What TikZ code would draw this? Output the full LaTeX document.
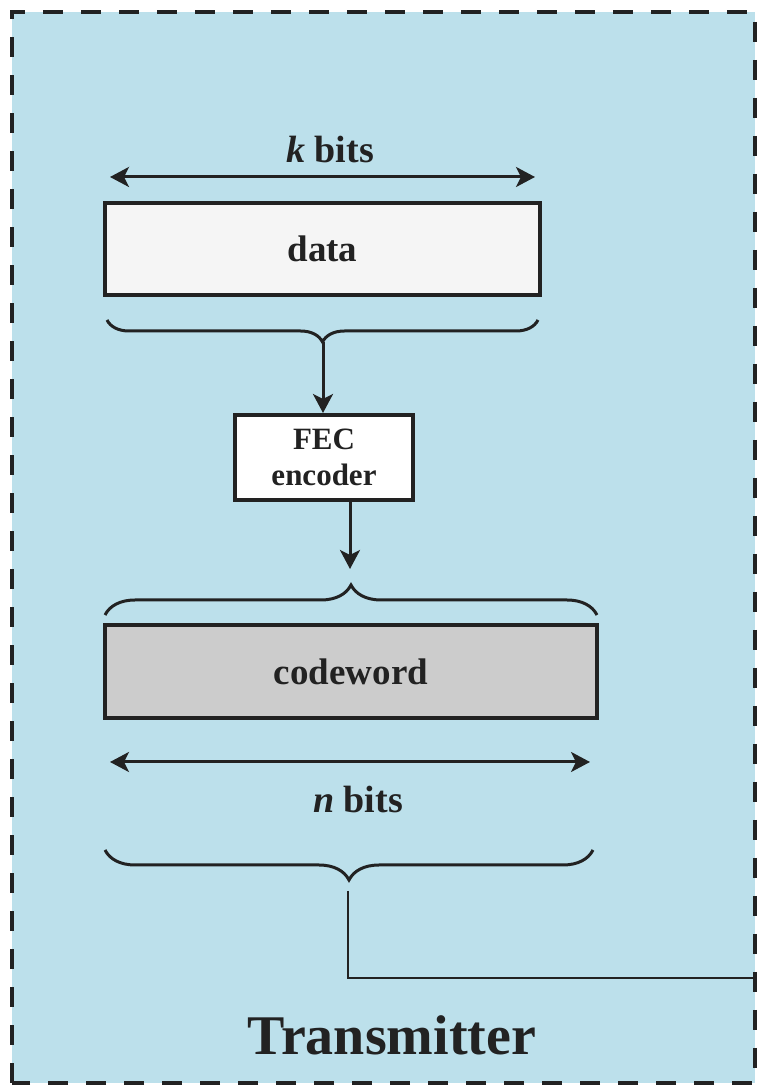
\documentclass[tikz,border=0pt]{standalone}
\usepackage{fontspec}
\setmainfont{Liberation Serif}
\usetikzlibrary{arrows.meta,decorations.pathreplacing}
\definecolor{bgblue}{RGB}{188,224,235}
\definecolor{ink}{RGB}{34,34,34}
\definecolor{datafill}{RGB}{245,245,245}
\definecolor{cwfill}{RGB}{204,204,204}
\tikzset{
  tip/.style={-{Stealth[length=9.5pt,width=10pt,inset=2.5pt]}},
  dtip/.style={{Stealth[length=9.5pt,width=10pt,inset=2.5pt]}-{Stealth[length=9.5pt,width=10pt,inset=2.5pt]}},
  conn/.style={draw=ink, line width=1.5pt},
  box/.style={draw=ink, line width=2pt, inner sep=0pt, font=\bfseries\fontsize{18.5pt}{20pt}\selectfont, text=ink},
  bracedeco/.style={draw=ink, line width=1.5pt, decorate},
  lbl/.style={font=\bfseries\fontsize{19pt}{21pt}\selectfont, text=ink, inner sep=0pt}
}
\begin{document}
\begin{tikzpicture}[x=0.5pt,y=0.5pt]
\useasboundingbox (0,0) rectangle (757,1087);
\fill[white] (0,0) rectangle (757,1087);
\draw[fill=bgblue, draw=ink, line width=1.8pt, dash pattern=on 10pt off 9pt] (12,4) rectangle (755,1075);
% k bits
\coordinate (kl) at (110,910);
\coordinate (kr) at (535,910);
\draw[conn, dtip] (kl) -- (kr);
\node[lbl] (klab) at (330,937) {\textit{k} bits};
% data
\node[box, fill=datafill, minimum width=217.5pt, minimum height=46pt] (data) at (322.5,838) {data};
% brace 1
\coordinate (b1r) at (538,767);
\coordinate (b1l) at (107,767);
\draw[bracedeco, decoration={brace, amplitude=11pt}] (b1r) -- (b1l);
\coordinate (b1tip) at (323,745);
% FEC encoder
\node[box, fill=white, minimum width=89pt, minimum height=42.5pt, align=center, font=\bfseries\fontsize{15.5pt}{17pt}\selectfont] (fec) at (324,629.5) {FEC\\[1pt]encoder};
\draw[conn, tip] (b1tip) -- (fec.north -| b1tip);
% arrow to brace 2
\coordinate (fecout) at (350,587);
\coordinate (b2tip) at (350,518);
\draw[conn, tip] (fecout) -- (b2tip);
% brace 2
\coordinate (b2l) at (105,472);
\coordinate (b2r) at (597,472);
\draw[bracedeco, decoration={brace, amplitude=15pt}] (b2l) -- (b2r);
% codeword
\node[box, fill=cwfill, minimum width=246pt, minimum height=46.5pt] (cw) at (351,415.5) {codeword};
% n bits
\coordinate (nl) at (110,325);
\coordinate (nr) at (590,325);
\draw[conn, dtip] (nl) -- (nr);
\node[lbl] (nlab) at (358,287) {\textit{n} bits};
% brace 3
\coordinate (b3r) at (593,237);
\coordinate (b3l) at (105,237);
\draw[bracedeco, decoration={brace, amplitude=15pt}] (b3r) -- (b3l);
% output line
\coordinate (outs) at (348,196);
\coordinate (outc) at (348,109);
\coordinate (oute) at (757,109);
\draw[draw=ink, line width=1.4pt] (outs) -- (outc) -- (oute);
% Transmitter
\node[font=\bfseries\fontsize{28pt}{30pt}\selectfont, text=ink, inner sep=0pt] (tx) at (392,52) {Transmitter};
\end{tikzpicture}
\end{document}
